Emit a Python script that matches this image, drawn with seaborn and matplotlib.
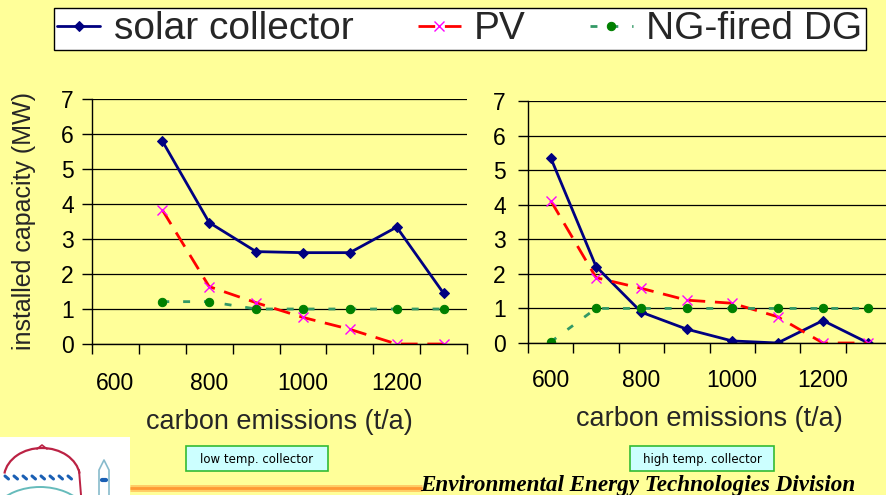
import matplotlib
matplotlib.use("Agg")
import matplotlib.pyplot as plt
import seaborn as sns
import pandas as pd
from matplotlib.patches import Rectangle, Arc
from matplotlib.lines import Line2D

# ---------------- data ----------------
emissions_low = [700, 800, 900, 1000, 1100, 1200, 1300]
solar_low = [5.80, 3.47, 2.64, 2.61, 2.61, 3.34, 1.45]
pv_low = [3.83, 1.64, 1.18, 0.76, 0.42, 0.00, 0.00]
ng_low = [1.21, 1.21, 1.00, 1.00, 1.00, 1.00, 1.00]

emissions_high = [600, 700, 800, 900, 1000, 1100, 1200, 1300]
solar_high = [5.36, 2.21, 0.89, 0.40, 0.06, 0.00, 0.65, 0.00]
pv_high = [4.12, 1.89, 1.58, 1.24, 1.15, 0.76, 0.00, 0.00]
ng_high = [0.03, 1.00, 1.00, 1.00, 1.00, 1.00, 1.00, 1.00]

series_names = ["solar collector", "PV", "NG-fired DG"]
x_tick_values = [600, 800, 1000, 1200]
x_boundaries = [550, 650, 750, 850, 950, 1050, 1150, 1250, 1350]
y_tick_values = [0, 1, 2, 3, 4, 5, 6, 7]
x_label = "carbon emissions (t/a)"
y_label = "installed capacity (MW)"
panel_notes = ["low temp. collector", "high temp. collector"]
footer_text = "Environmental Energy Technologies Division"

# ---------------- style ----------------
BG = "#FFFF99"
sns.set_style("ticks")
plt.rcParams["font.family"] = ["Liberation Sans", "DejaVu Sans"]

W, H = 886, 495
fig = plt.figure(figsize=(W / 100, H / 100), dpi=100)
fig.patch.set_facecolor(BG)


def fx(px):
    return px / W


def fy(py):
    return 1 - py / H


styles = {
    "solar collector": dict(color="#000080", marker="D", markersize=5.5,
                            markerfacecolor="#000080", markeredgecolor="#000080",
                            linewidth=2.0, linestyle="-"),
    "PV": dict(color="#FF0000", marker="x", markersize=6.5,
               markeredgecolor="#FF00FF", markeredgewidth=1.0,
               linewidth=2.0, linestyle=(0, (6, 3.5))),
    "NG-fired DG": dict(color="#339966", marker="o", markersize=6,
                        markerfacecolor="#008000", markeredgecolor="#008000",
                        linewidth=2.0, linestyle=(0, (2.5, 5))),
}


def make_panel(rect, x, series, ypad):
    ax = fig.add_axes(rect)
    ax.set_facecolor(BG)
    df = pd.DataFrame({"emissions": x, **series})
    for name in series_names:
        sns.lineplot(data=df, x="emissions", y=name, ax=ax, label=name,
                     legend=False, **styles[name])
    if ax.get_legend() is not None:
        ax.get_legend().remove()
    ax.set_xlim(x_boundaries[0], x_boundaries[-1])
    ax.set_ylim(0, 7)
    ax.set_yticks(y_tick_values)
    ax.set_xticks(x_tick_values)
    ax.set_xticks(x_boundaries, minor=True)
    ax.tick_params(axis="x", which="major", length=0, pad=ypad, labelsize=16.5,
                   colors="black")
    ax.tick_params(axis="x", which="minor", length=7, width=1, direction="out",
                   colors="black")
    ax.tick_params(axis="y", which="major", length=7, width=1, direction="out",
                   labelsize=16.5, colors="black", pad=6)
    ax.yaxis.grid(True, color="black", linewidth=0.9)
    ax.set_axisbelow(True)
    for s in ["top", "right"]:
        ax.spines[s].set_visible(False)
    for s in ["left", "bottom"]:
        ax.spines[s].set_color("black")
        ax.spines[s].set_linewidth(1)
    ax.set_xlabel(x_label, fontsize=19.5)
    ax.set_ylabel("")
    return ax


ax1 = make_panel([fx(92), fy(344), fx(467) - fx(92), fy(99) - fy(344)],
                 emissions_low,
                 {"solar collector": solar_low, "PV": pv_low, "NG-fired DG": ng_low},
                 ypad=20)
ax2 = make_panel([fx(528), fy(343), fx(891) - fx(528), fy(101) - fy(343)],
                 emissions_high,
                 {"solar collector": solar_high, "PV": pv_high, "NG-fired DG": ng_high},
                 ypad=19)

ax1.set_ylabel(y_label, fontsize=18)
ax1.yaxis.set_label_coords(-0.15, 0.5)
ax1.xaxis.set_label_coords(0.5, -0.265)
ax2.xaxis.set_label_coords(0.5, -0.26)
ax2.tick_params(axis="y", pad=9)

# ---------------- legend ----------------
handles, labels = ax1.get_legend_handles_labels()
leg = fig.legend(handles, labels, loc="upper center",
                 bbox_to_anchor=(fx(460), fy(8)), ncol=3, fontsize=28,
                 frameon=True, fancybox=False, edgecolor="black",
                 facecolor="white", framealpha=1, handlelength=1.1,
                 handletextpad=0.35, columnspacing=1.65, borderpad=0.08,
                 borderaxespad=0)
leg.get_frame().set_linewidth(1.0)

# ---------------- bottom decorations ----------------
for (x0, x1), note in zip([(186, 328), (630, 774)], panel_notes):
    fig.patches.append(Rectangle((fx(x0), fy(471)), fx(x1) - fx(x0), fy(446) - fy(471),
                                 transform=fig.transFigure, facecolor="#CCFFFF",
                                 edgecolor="#33BB33", linewidth=1.2, zorder=2))
    fig.text(fx((x0 + x1) / 2), fy(459), note, ha="center", va="center",
             fontsize=8.5, family=["DejaVu Sans"], color="black", zorder=3)

# orange rule
fig.add_artist(Line2D([fx(130), fx(422)], [fy(488), fy(488)], transform=fig.transFigure,
                      color="#FFCC66", linewidth=5, solid_capstyle="butt", zorder=2))
fig.add_artist(Line2D([fx(130), fx(422)], [fy(488), fy(488)], transform=fig.transFigure,
                      color="#FF9933", linewidth=2, solid_capstyle="butt", zorder=3))
fig.text(fx(420), fy(486), footer_text, ha="left", va="center", fontsize=16.7,
         family=["Liberation Serif", "DejaVu Serif"], fontweight="bold",
         fontstyle="italic", color="black", zorder=3)

# logo block
fig.patches.append(Rectangle((0, 0), fx(130), fy(437), transform=fig.transFigure,
                             facecolor="white", edgecolor="none", zorder=0.5))
fig.add_artist(Arc((fx(42), fy(478)), fx(76), (fy(448) - fy(478)) * 2, theta1=12, theta2=168,
                   transform=fig.transFigure, color="#BB2244", linewidth=1.6, zorder=3))
fig.add_artist(Line2D([fx(37), fx(42), fx(47)], [fy(449), fy(445), fy(449)],
                      transform=fig.transFigure, color="#BB2244", linewidth=1.2, zorder=3))
fig.add_artist(Line2D([fx(79), fx(81)], [fy(470), fy(495)], transform=fig.transFigure,
                      color="#BB2244", linewidth=1.4, zorder=3))
for i in range(8):
    fig.add_artist(Line2D([fx(5 + i * 9), fx(8.5 + i * 9)], [fy(476), fy(479)],
                          transform=fig.transFigure, color="#1A5FB4", linewidth=2.2,
                          zorder=3))
fig.add_artist(Arc((fx(40), fy(522)), fx(100), (fy(487) - fy(522)) * 2, theta1=35,
                   theta2=145, transform=fig.transFigure, color="#66BBBB", linewidth=1.4,
                   zorder=3))
fig.add_artist(Line2D([fx(99), fx(99), fx(104), fx(109), fx(109)],
                      [fy(495), fy(470), fy(460), fy(470), fy(495)],
                      transform=fig.transFigure, color="#88BBCC", linewidth=1.2, zorder=3))
fig.add_artist(Line2D([fx(102), fx(106)], [fy(480), fy(480)], transform=fig.transFigure,
                      color="#1A5FB4", linewidth=3, zorder=3))

fig.savefig("out.png", dpi=100, facecolor=BG)
